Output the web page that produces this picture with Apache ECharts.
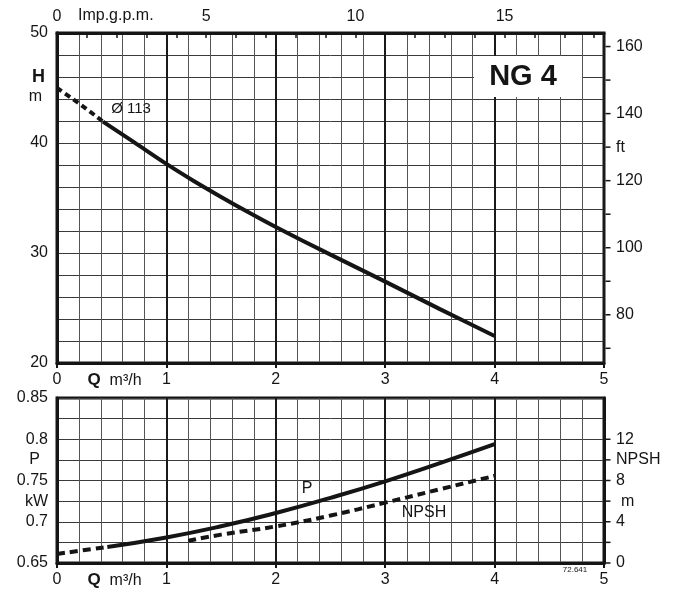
<!DOCTYPE html>
<html>
<head>
<meta charset="utf-8">
<script src="https://cdn.jsdelivr.net/npm/echarts@6/dist/echarts.min.js"></script>
<style>html,body{margin:0;padding:0;background:#fff}#c{width:677px;height:592px}</style>
</head>
<body>
<div id="c"></div>
<script>
// ---- data ----
const qHdash = [0, 0.2, 0.42];
const hDash = [45.0, 43.6, 41.95];
const qH = [0.42, 0.7, 1.0, 1.25, 1.5, 1.75, 2.0, 2.5, 3.0, 3.5, 4.0];
const hSolid = [41.95, 40.1, 38.1, 36.55, 35.1, 33.7, 32.36, 29.85, 27.4, 24.9, 22.45];
const qPdash = [0, 0.46];
const pDash = [0.661, 0.6695];
const qP = [0.46, 1.0, 1.5, 2.0, 2.5, 3.0, 3.5, 4.0];
const pSolid = [0.6695, 0.681, 0.6945, 0.7106, 0.729, 0.749, 0.771, 0.794];
const qN = [1.2, 1.5, 2.0, 2.5, 3.0, 3.5, 4.0];
const npsh = [2.15, 2.75, 3.55, 4.6, 5.85, 7.15, 8.45];

const qTickLabels = [0, 1, 2, 3, 4, 5];
const gpmTickLabels = [0, 5, 10, 15];
const hTickLabels = [20, 30, 40, 50];
const ftTicks = [70, 80, 90, 100, 110, 120, 130, 140, 150, 160];
const ftTickLabels = [80, 100, 120, 140, 160];
const pTickLabels = [0.65, 0.7, 0.75, 0.8, 0.85];
const npshTicks = [0, 2, 4, 6, 8, 10, 12];
const npshTickLabels = [0, 4, 8, 12];

const Q_MAX = 5;
const M3H_TO_GPM = 3.6662;
const M_TO_FT = 3.28084;

const FONT = '"Liberation Sans", Arial, Helvetica, sans-serif';
const INK = '#151515';

function zip(a, b) { return a.map((v, i) => [v, b[i]]); }
function near(a, b) { return Math.abs(a - b) < 1e-6; }

const qLabelPos = 0.526;   // position of "Q m³/h" caption on the Q axis
const xLabelVals = [0, qLabelPos].concat(qTickLabels.slice(1));
function xFormatter(v) { return near(v, qLabelPos) ? '{q|Q}  m³/h' : String(Math.round(v)); }

const baseLabel = { color: INK, fontFamily: FONT, fontSize: 16 };

const chart = echarts.init(document.getElementById('c'), null, { renderer: 'canvas' });

function qAxis(gridIndex) {
  return {
    type: 'value', gridIndex: gridIndex, min: 0, max: Q_MAX, interval: 1, position: 'bottom',
    axisLine: { show: true, lineStyle: { color: INK, width: 3 } },
    axisTick: { show: true, length: 5, lineStyle: { color: INK, width: 2 } },
    axisLabel: Object.assign({}, baseLabel, {
      margin: 9, customValues: xLabelVals, formatter: xFormatter,
      rich: { q: { fontFamily: FONT, fontSize: 17, fontWeight: 'bold', color: INK } }
    }),
    splitLine: { show: true, lineStyle: { color: '#1a1a1a', width: 2 } },
    minorTick: { show: false, splitNumber: 5 },
    minorSplitLine: { show: true, lineStyle: { color: '#555', width: 1 } }
  };
}

// short outward tick marks on a right-hand axis, placed through the axis scale
function rightTicks(xIdx, yIdx, values) {
  return {
    type: 'custom', xAxisIndex: xIdx, yAxisIndex: yIdx, clip: false, silent: true, z: 6,
    data: values.map(v => [Q_MAX, v]),
    renderItem: function (params, api) {
      const p = api.coord([api.value(0), api.value(1)]);
      return { type: 'line', shape: { x1: p[0] + 1.5, y1: p[1], x2: p[0] + 6.5, y2: p[1] },
               style: { stroke: INK, lineWidth: 1.5 } };
    }
  };
}

const option = {
  animation: false,
  backgroundColor: '#fff',
  grid: [
    { left: 57, right: 73, top: 33, bottom: 229, show: true, borderColor: INK, borderWidth: 3 },
    { left: 57, right: 73, top: 398, bottom: 29, show: true, borderColor: INK, borderWidth: 3 }
  ],
  xAxis: [
    qAxis(0),
    qAxis(1),
    {
      type: 'value', gridIndex: 0, position: 'top', min: 0, max: Q_MAX * M3H_TO_GPM, interval: 1,
      axisLine: { show: true, lineStyle: { color: INK, width: 3 } },
      axisTick: { show: true, inside: true, length: 5, lineStyle: { color: INK, width: 1.5 } },
      axisLabel: Object.assign({}, baseLabel, {
        margin: 8, customValues: gpmTickLabels, formatter: v => String(Math.round(v))
      }),
      splitLine: { show: false }
    }
  ],
  yAxis: [
    {
      type: 'value', gridIndex: 0, min: 20, max: 50, interval: 10, position: 'left',
      axisLine: { show: true, lineStyle: { color: INK, width: 3 } },
      axisTick: { show: false },
      axisLabel: Object.assign({}, baseLabel, {
        margin: 9,
        customValues: hTickLabels.concat([44.2, 46]),
        formatter: v => near(v, 46) ? '{h|H}' : (near(v, 44.2) ? '{m|m}' : String(Math.round(v))),
        rich: {
          h: { fontFamily: FONT, fontSize: 18, fontWeight: 'bold', color: INK, padding: [0, 3, 0, 0] },
          m: { fontFamily: FONT, fontSize: 16, color: INK, padding: [0, 6, 0, 0] }
        }
      }),
      splitLine: { show: true, lineStyle: { color: '#3a3a3a', width: 1 } },
      minorTick: { show: false, splitNumber: 5 },
      minorSplitLine: { show: true, lineStyle: { color: '#3a3a3a', width: 1 } }
    },
    {
      type: 'value', gridIndex: 0, min: 20 * M_TO_FT, max: 50 * M_TO_FT, position: 'right',
      axisLine: { show: true, lineStyle: { color: INK, width: 3 } },
      axisTick: { show: false },
      axisLabel: Object.assign({}, baseLabel, {
        margin: 12, align: 'left',
        customValues: ftTickLabels.concat([130]),
        formatter: v => near(v, 130) ? 'ft' : String(Math.round(v))
      }),
      splitLine: { show: false }
    },
    {
      type: 'value', gridIndex: 1, min: 0.65, max: 0.85, interval: 0.05, position: 'left',
      axisLine: { show: true, lineStyle: { color: INK, width: 3 } },
      axisTick: { show: false },
      axisLabel: Object.assign({}, baseLabel, {
        margin: 9,
        customValues: pTickLabels.concat([0.725, 0.775]),
        formatter: v => near(v, 0.775) ? '{u|P}' : (near(v, 0.725) ? 'kW' : String(+v.toFixed(3))),
        rich: { u: { fontFamily: FONT, fontSize: 16, color: INK, padding: [0, 8, 0, 0] } }
      }),
      splitLine: { show: true, lineStyle: { color: '#3a3a3a', width: 1 } },
      minorTick: { show: false, splitNumber: 2 },
      minorSplitLine: { show: true, lineStyle: { color: '#3a3a3a', width: 1 } }
    },
    {
      type: 'value', gridIndex: 1, min: 0, max: 16, position: 'right',
      axisLine: { show: true, lineStyle: { color: INK, width: 3 } },
      axisTick: { show: false },
      axisLabel: Object.assign({}, baseLabel, {
        margin: 12, align: 'left',
        customValues: npshTickLabels.concat([6, 10]),
        formatter: v => near(v, 10) ? 'NPSH' : (near(v, 6) ? '{m|m}' : String(Math.round(v))),
        rich: { m: { fontFamily: FONT, fontSize: 16, color: INK, padding: [0, 0, 0, 5] } }
      }),
      splitLine: { show: false }
    }
  ],
  series: [
    { type: 'line', xAxisIndex: 0, yAxisIndex: 0, data: zip(qHdash, hDash), smooth: true, symbol: 'none',
      lineStyle: { color: INK, width: 4, type: [6, 4], cap: 'butt' }, z: 5 },
    { type: 'line', xAxisIndex: 0, yAxisIndex: 0, data: zip(qH, hSolid), smooth: 0.3, symbol: 'none',
      lineStyle: { color: INK, width: 4 }, z: 5 },
    { type: 'line', xAxisIndex: 1, yAxisIndex: 2, data: zip(qPdash, pDash), smooth: true, symbol: 'none',
      lineStyle: { color: INK, width: 4, type: [8, 5], cap: 'butt' }, z: 5 },
    { type: 'line', xAxisIndex: 1, yAxisIndex: 2, data: zip(qP, pSolid), smooth: true, symbol: 'none',
      lineStyle: { color: INK, width: 4 }, z: 5 },
    { type: 'line', xAxisIndex: 1, yAxisIndex: 3, data: zip(qN, npsh), smooth: true, symbol: 'none',
      lineStyle: { color: INK, width: 4, type: [8, 5], cap: 'butt' }, z: 5 },
    rightTicks(0, 1, ftTicks),
    rightTicks(1, 3, npshTicks)
  ],
  graphic: [
    { type: 'text', left: 78, top: 8, style: { text: 'Imp.g.p.m.', fill: INK, font: '16px ' + FONT } },
    { type: 'rect', shape: { x: 474, y: 56, width: 108, height: 41 }, style: { fill: '#fff' }, z: 10 },
    { type: 'text', x: 523, y: 77, style: { text: 'NG 4', fill: INK, font: 'bold 29px ' + FONT, align: 'center', verticalAlign: 'middle' }, z: 11 },
    { type: 'text', x: 131, y: 109, style: { text: 'Ø 113', fill: INK, font: '15px ' + FONT, align: 'center', verticalAlign: 'middle' }, z: 11 },
    { type: 'text', x: 307, y: 489, style: { text: 'P', fill: INK, font: '16px ' + FONT, align: 'center', verticalAlign: 'middle' }, z: 11 },
    { type: 'text', x: 424, y: 513, style: { text: 'NPSH', fill: INK, font: '16px ' + FONT, align: 'center', verticalAlign: 'middle' }, z: 11 },
    { type: 'text', x: 575, y: 570, style: { text: '72.641', fill: INK, font: '8px ' + FONT, align: 'center', verticalAlign: 'middle' }, z: 11 }
  ]
};
chart.setOption(option);
</script>
</body>
</html>
